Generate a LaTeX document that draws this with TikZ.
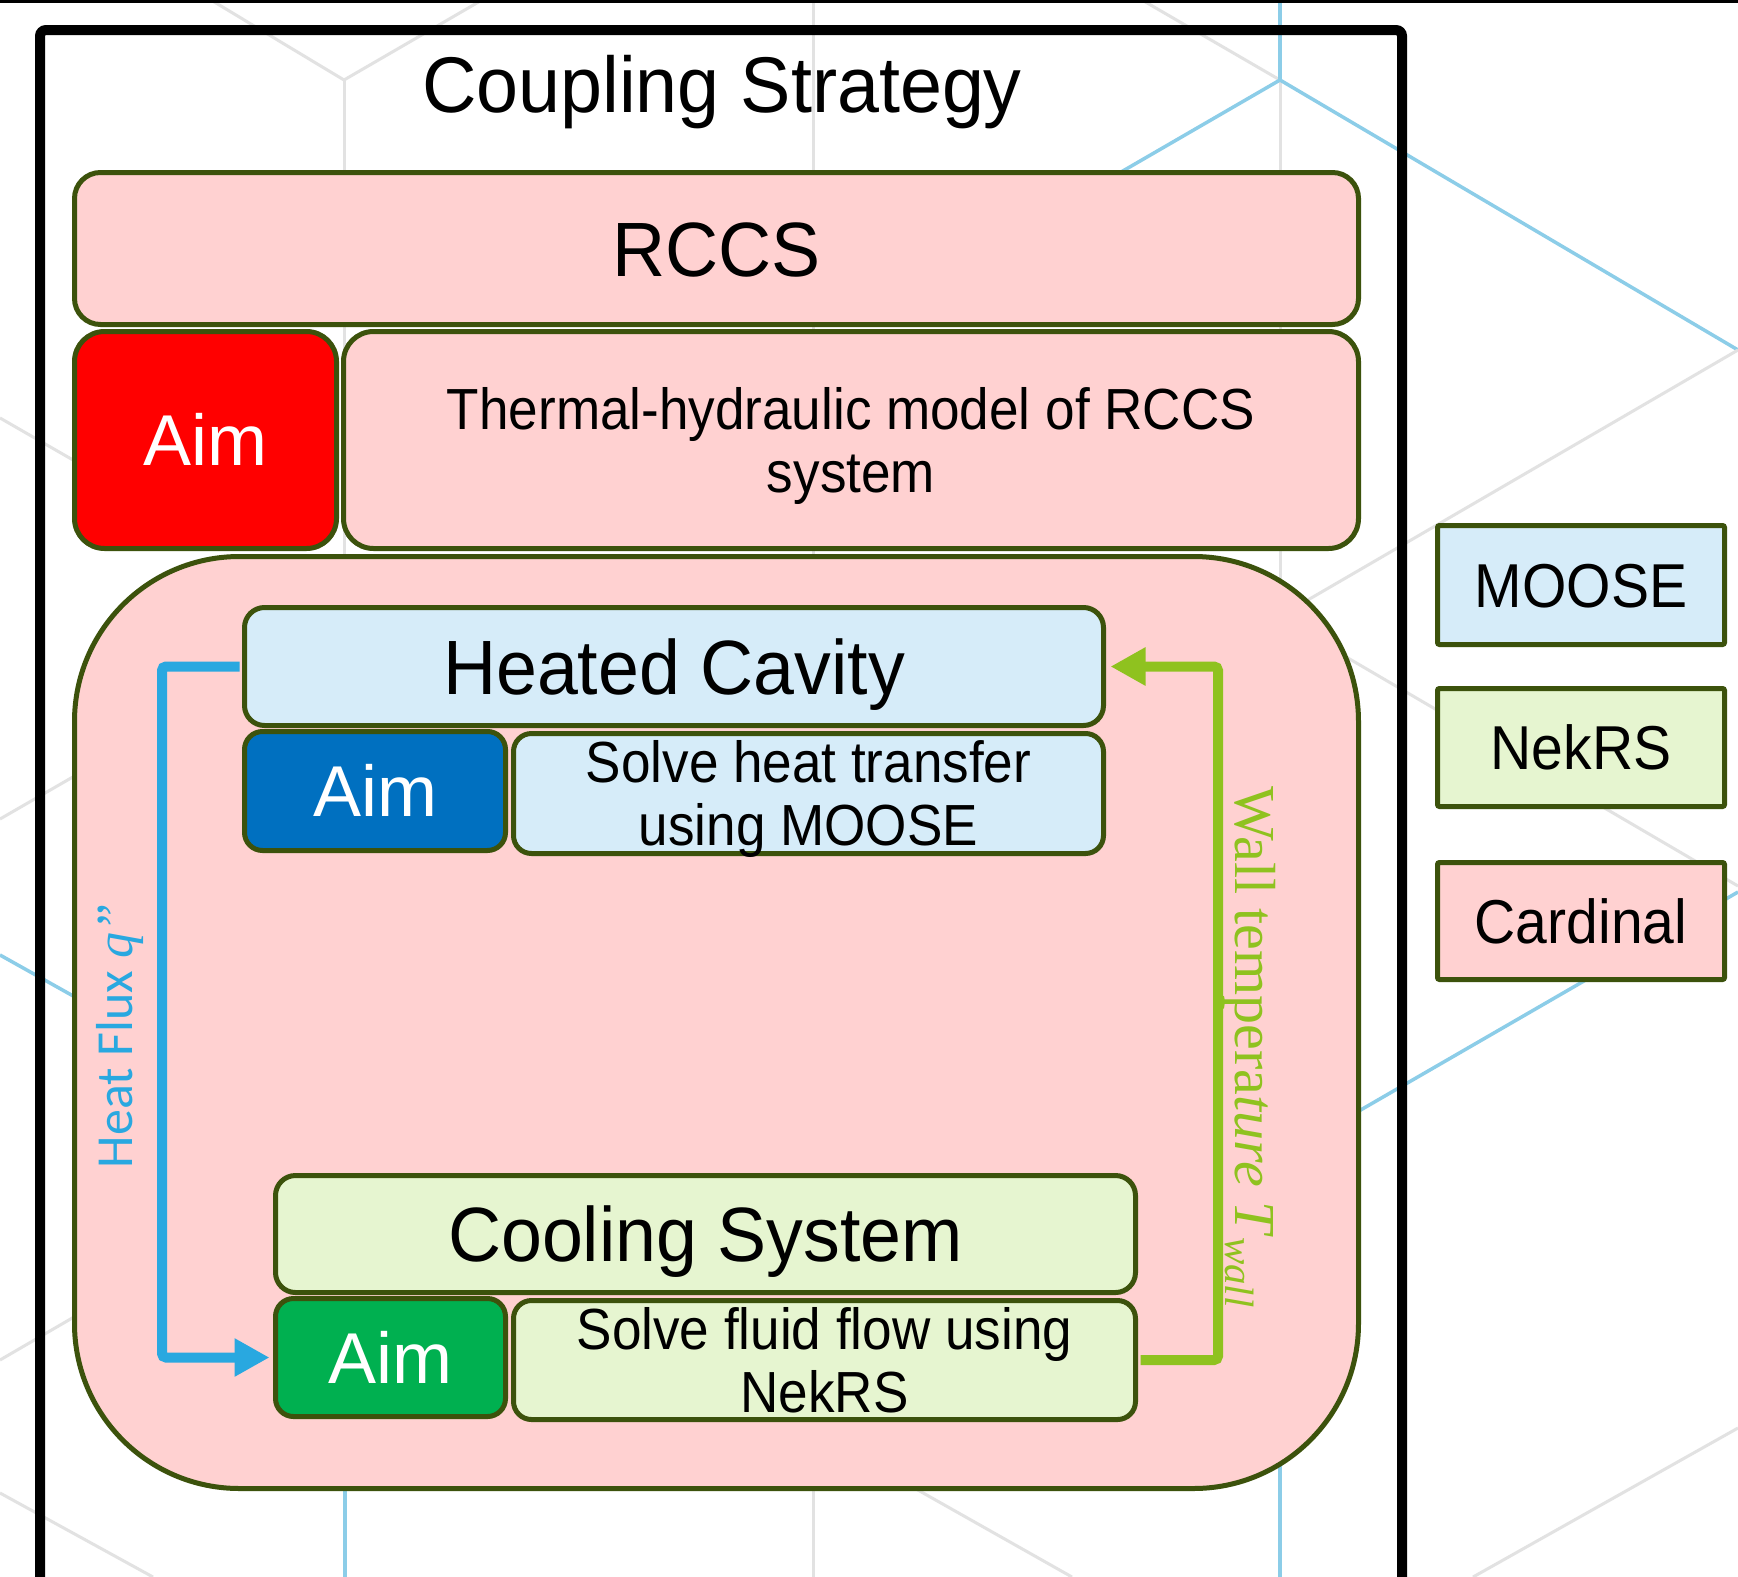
\documentclass[tikz,border=0pt]{standalone}
\usepackage{fontspec}
\setmainfont{Liberation Sans}
\newfontfamily\headfont[FakeStretch=0.955]{Liberation Sans}
\newfontfamily\narrowfont[FakeStretch=0.915]{Liberation Sans}
\newfontfamily\legfont[FakeStretch=0.92]{Liberation Sans}
\newfontfamily\calfont{Carlito}
\newfontfamily\serfont{Liberation Serif}
\usetikzlibrary{arrows.meta}

\definecolor{bordc}{RGB}{60,82,12}
\definecolor{cardpink}{RGB}{255,209,209}
\definecolor{moosebl}{RGB}{214,236,249}
\definecolor{nekgr}{RGB}{230,245,208}
\definecolor{aimred}{RGB}{255,0,0}
\definecolor{aimblue}{RGB}{0,112,192}
\definecolor{aimgreen}{RGB}{0,176,80}
\definecolor{fluxblue}{RGB}{41,168,224}
\definecolor{wallgreen}{RGB}{143,194,31}
\definecolor{bggrey}{RGB}{226,226,226}
\definecolor{bgblue}{RGB}{140,205,232}

\newcommand\ftitle{\headfont\fontsize{79}{82}\selectfont}
\newcommand\fhead{\headfont\fontsize{77}{80}\selectfont}
\newcommand\faim{\fontsize{72}{75}\selectfont}
\newcommand\fnarrow{\narrowfont\fontsize{58}{63}\selectfont}
\newcommand\fleg{\legfont\fontsize{62}{65}\selectfont}
\newcommand\fflux{\calfont\fontsize{52}{55}\selectfont}
\newcommand\fwall{\serfont\fontsize{58}{60}\selectfont}
\newcommand\twol[2]{\begin{tabular}[b]{@{}c@{}}#1\\#2\end{tabular}}

\begin{document}
\begin{tikzpicture}[x=1pt,y=-1pt,
  box/.style={draw=bordc,line width=5pt,inner sep=0pt},
  headbox/.style={box,font=\fhead,text height=55pt,text depth=0pt},
  aimbox/.style={box,font=\faim,text=white,text height=51.6pt,text depth=0pt},
  twobox/.style={box,font=\fnarrow,text height=104.5pt,text depth=0pt},
  legbox/.style={box,rounded corners=2pt,font=\fleg,text height=44.4pt,text depth=0pt,
    minimum width=287pt},
  bgg/.style={draw=bggrey,line width=3pt},
  bgb/.style={draw=bgblue,line width=3.5pt},
  fluxarrow/.style={draw=fluxblue,line width=10pt,rounded corners=4pt,
    -{Triangle[length=35pt,width=36pt]}},
  wallarrow/.style={draw=wallgreen,line width=10pt,rounded corners=4pt,
    -{Triangle[length=35pt,width=36pt]}}]

\useasboundingbox (0,0) rectangle (1738,1577);
\fill[white] (0,0) rectangle (1738,1577);

% background pattern
\draw[bgg] (211,0) -- (344,80) -- (482,0);
\draw[bgg] (344,80) -- (344,700);
\draw[bgb] (345,1300) -- (345,1577);
\draw[bgg] (813,0) -- (813,1577);
\draw[bgg] (1142,0) -- (1280,80);
\draw[bgg] (1280,80) -- (1280,1300);
\draw[bgb] (1280,80) -- (1738,350);
\draw[bgb] (1280,0) -- (1280,80);
\draw[bgb] (1280,1300) -- (1280,1577);
\draw[bgb] (1280,80) -- (900,300);
\draw[bgg] (0,819) -- (300,646);
\draw[bgg] (0,1360) -- (1738,350);
\draw[bgg] (0,418) -- (120,487);
\draw[bgb] (0,955) -- (300,1123);
\draw[bgg] (700,1367) -- (1072,1577);
\draw[bgg] (1300,630) -- (1738,886);
\draw[bgb] (1300,1145) -- (1738,892);
\draw[bgg] (1473,1577) -- (1738,1428);
\draw[bgg] (0,1493) -- (153,1577);

% top edge line and frame
\draw[line width=3pt] (0,1) -- (1738,1);
\draw[line width=10pt,rounded corners=6pt] (40,1620) -- (40,30) -- (1402,30) -- (1402,1620);

% title
\node[font=\ftitle,anchor=base,inner sep=0pt] (title) at (722,112) {Coupling Strategy};

% RCCS level
\node[headbox,rounded corners=26pt,fill=cardpink,minimum width=1284pt,minimum height=152pt]
  (rccs) at (716.5,248.5) {RCCS};
\node[aimbox,rounded corners=30pt,fill=aimred,minimum width=262pt,minimum height=217pt]
  (aimR) at (205.5,440) {Aim};
\node[twobox,rounded corners=30pt,fill=cardpink,minimum width=1015pt,minimum height=217pt]
  (thermal) at (851,440) {\twol{Thermal-hydraulic model of RCCS}{system}};

% Cardinal region
\node[box,rounded corners=165pt,fill=cardpink,minimum width=1284pt,minimum height=932pt]
  (cardbox) at (716.5,1022.5) {};

% Heated cavity
\node[headbox,rounded corners=20pt,fill=moosebl,minimum width=859pt,minimum height=118pt]
  (heated) at (674,666.5) {Heated Cavity};
\node[aimbox,rounded corners=18pt,fill=aimblue,minimum width=261pt,minimum height=119pt]
  (aimB) at (375,791) {Aim};
\node[twobox,rounded corners=18pt,fill=moosebl,minimum width=590pt,minimum height=120pt]
  (solveH) at (808.5,793.5) {\twol{Solve heat transfer}{using MOOSE}};

% Cooling system
\node[headbox,rounded corners=20pt,fill=nekgr,minimum width=860pt,minimum height=117pt]
  (cooling) at (705.5,1234) {Cooling System};
\node[aimbox,rounded corners=18pt,fill=aimgreen,minimum width=230pt,minimum height=118pt]
  (aimG) at (390.5,1357.5) {Aim};
\node[twobox,rounded corners=18pt,fill=nekgr,minimum width=622pt,minimum height=119pt]
  (solveF) at (824.5,1360) {\twol{Solve fluid flow using}{NekRS}};

% coupling arrows
\draw[fluxarrow,shorten <=2.5pt,shorten >=3.5pt] (heated.west) -- ++(-80,0) |- (aimG.west);
\draw[wallarrow,shorten <=2.5pt,shorten >=4.5pt] (solveF.east) -- ++(80,0) |- (heated.east);

\node[font=\fflux,text=fluxblue,rotate=90,inner sep=0pt,text height=34pt,text depth=0pt]
  (fluxlbl) at (115,1036) {Heat Flux {\serfont\itshape q”}};
\node[font=\fwall,text=wallgreen,rotate=-90,inner sep=0pt,text height=38pt,text depth=0pt]
  (walllbl) at (1254,1047)
  {Wall tempera\textit{ture} \textit{T}\raisebox{-10pt}{\fontsize{41}{41}\selectfont\itshape wall}};

% legend
\node[legbox,fill=moosebl,minimum height=119pt] (legM) at (1581,585) {MOOSE};
\node[legbox,fill=nekgr,minimum height=118pt] (legN) at (1581,747.5) {NekRS};
\node[legbox,fill=cardpink,minimum height=117pt] (legC) at (1581,921) {Cardinal};
\end{tikzpicture}
\end{document}
